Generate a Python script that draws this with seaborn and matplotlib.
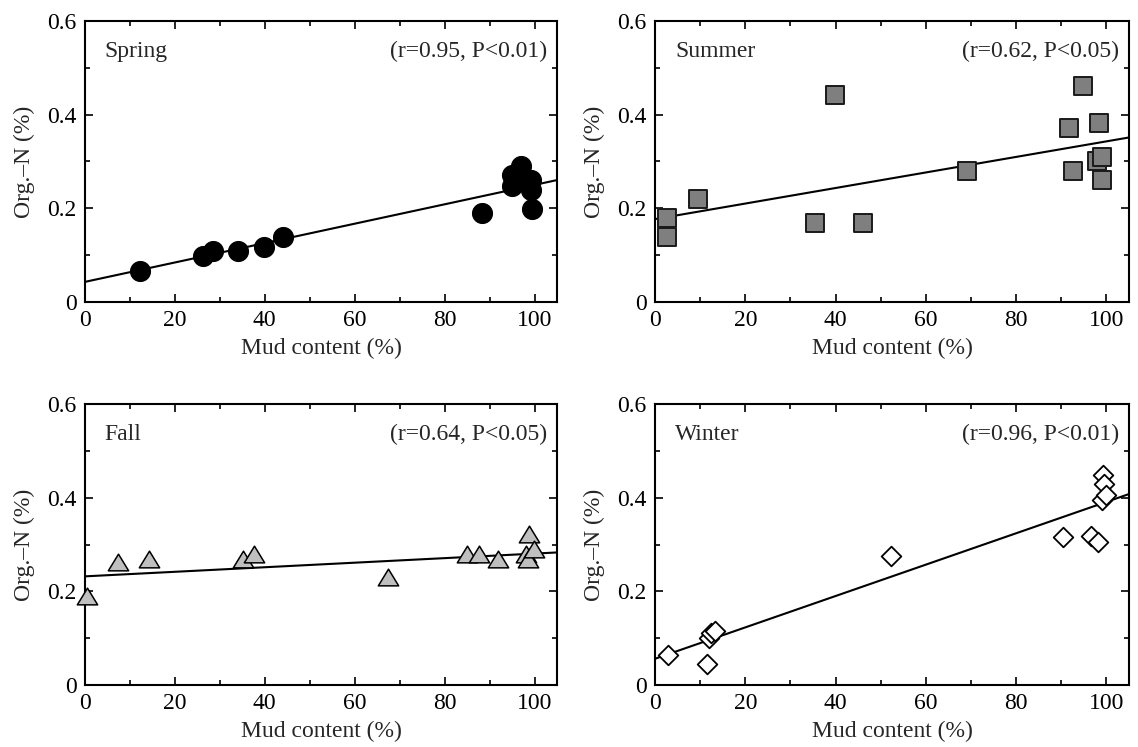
import matplotlib
matplotlib.use("Agg")
import matplotlib.pyplot as plt
import seaborn as sns
import numpy as np
from matplotlib.ticker import MultipleLocator, FuncFormatter
from matplotlib.markers import MarkerStyle
from matplotlib.path import Path

# ---------------- data ----------------
seasons = ["Spring", "Summer", "Fall", "Winter"]
stats_text = ["(r=0.95, P<0.01)", "(r=0.62, P<0.05)", "(r=0.64, P<0.05)", "(r=0.96, P<0.01)"]

spring_mud = [12.2, 26.2, 28.5, 34.0, 39.8, 44.0, 88.4, 94.9, 95.1, 97.1, 97.4, 99.3, 99.3, 99.4]
spring_orgn = [0.066, 0.098, 0.109, 0.109, 0.118, 0.139, 0.19, 0.248, 0.271, 0.29, 0.26, 0.26, 0.239, 0.199]

summer_mud = [2.7, 2.7, 9.5, 35.5, 39.9, 46.1, 69.2, 91.6, 92.7, 94.7, 98.0, 98.4, 99.1, 99.1]
summer_orgn = [0.179, 0.139, 0.22, 0.169, 0.442, 0.169, 0.28, 0.372, 0.28, 0.462, 0.301, 0.382, 0.31, 0.261]

fall_mud = [0.5, 7.3, 14.2, 35.1, 37.6, 67.3, 84.9, 87.6, 91.8, 98.0, 98.5, 98.7, 99.8]
fall_orgn = [0.19, 0.262, 0.27, 0.27, 0.28, 0.23, 0.28, 0.28, 0.27, 0.28, 0.27, 0.322, 0.29]

winter_mud = [2.9, 11.5, 12.0, 12.4, 13.2, 52.3, 90.3, 96.6, 98.2, 99.1, 99.3, 99.4, 99.8]
winter_orgn = [0.064, 0.045, 0.10, 0.11, 0.115, 0.275, 0.317, 0.319, 0.305, 0.395, 0.449, 0.43, 0.406]

# regression lines (intercept, slope)
fit_intercept = [0.043, 0.177, 0.232, 0.056]
fit_slope = [0.00207, 0.00166, 0.000486, 0.00335]

xlim = (0, 105)
ylim = (0, 0.6)

# ---------------- style ----------------
sns.set_style("ticks")
plt.rcParams["font.family"] = ["Liberation Serif", "DejaVu Serif"]
FS = 17

tri_marker = MarkerStyle(Path([(0, 0.82), (-1, -0.82), (1, -0.82), (0, 0.82)],
                              [Path.MOVETO, Path.LINETO, Path.LINETO, Path.CLOSEPOLY]))

styles = [
    dict(marker="o", s=207, color="black", edgecolor="black", linewidth=0.8),
    dict(marker="s", s=185, color="#7f7f7f", edgecolor="#1a1a1a", linewidth=1.4),
    dict(marker=tri_marker, s=215, color="#bfbfbf", edgecolor="black", linewidth=1.1),
    dict(marker="D", s=100, color="white", edgecolor="black", linewidth=1.3),
]

xs = [spring_mud, summer_mud, fall_mud, winter_mud]
ys = [spring_orgn, summer_orgn, fall_orgn, winter_orgn]

W, H = 1138, 747
fig = plt.figure(figsize=(W / 100, H / 100), dpi=100)
positions = [
    (85, 21, 472, 281),
    (655, 21, 474, 281),
    (85, 404, 472, 281),
    (655, 404, 474, 281),
]

for i, (l, t, w, h) in enumerate(positions):
    ax = fig.add_axes([l / W, 1 - (t + h) / H, w / W, h / H])
    ax.set_xlim(*xlim)
    ax.set_ylim(*ylim)

    fx = np.array(xlim, dtype=float)
    fy = fit_intercept[i] + fit_slope[i] * fx
    sns.lineplot(x=fx, y=fy, ax=ax, color="black", linewidth=1.5, zorder=2)
    sns.scatterplot(x=xs[i], y=ys[i], ax=ax, zorder=3, clip_on=False if i == 2 else True,
                    **styles[i])

    ax.xaxis.set_major_locator(MultipleLocator(20))
    ax.xaxis.set_minor_locator(MultipleLocator(10))
    ax.yaxis.set_major_locator(MultipleLocator(0.2))
    ax.yaxis.set_minor_locator(MultipleLocator(0.1))
    ax.yaxis.set_major_formatter(FuncFormatter(lambda v, _: "0" if abs(v) < 1e-9 else f"{v:.1f}"))
    ax.tick_params(which="both", direction="in", top=True, right=True, labelsize=FS,
                   width=1.2, colors="black")
    ax.tick_params(which="major", length=6)
    ax.tick_params(which="minor", length=3.6)
    ax.tick_params(axis="x", which="major", pad=6)
    ax.tick_params(axis="y", which="major", pad=6)
    for sp in ax.spines.values():
        sp.set_linewidth(1.5)
        sp.set_color("black")

    ax.set_xlabel("Mud content (%)", fontsize=FS, labelpad=5)
    ax.set_ylabel("Org.\u2013N (%)", fontsize=FS, labelpad=9)

    ax.text(0.042, 0.89, seasons[i], transform=ax.transAxes, fontsize=FS,
            ha="left", va="center")
    ax.text(0.979, 0.89, stats_text[i], transform=ax.transAxes, fontsize=FS,
            ha="right", va="center")

fig.savefig("out.png", dpi=100)
